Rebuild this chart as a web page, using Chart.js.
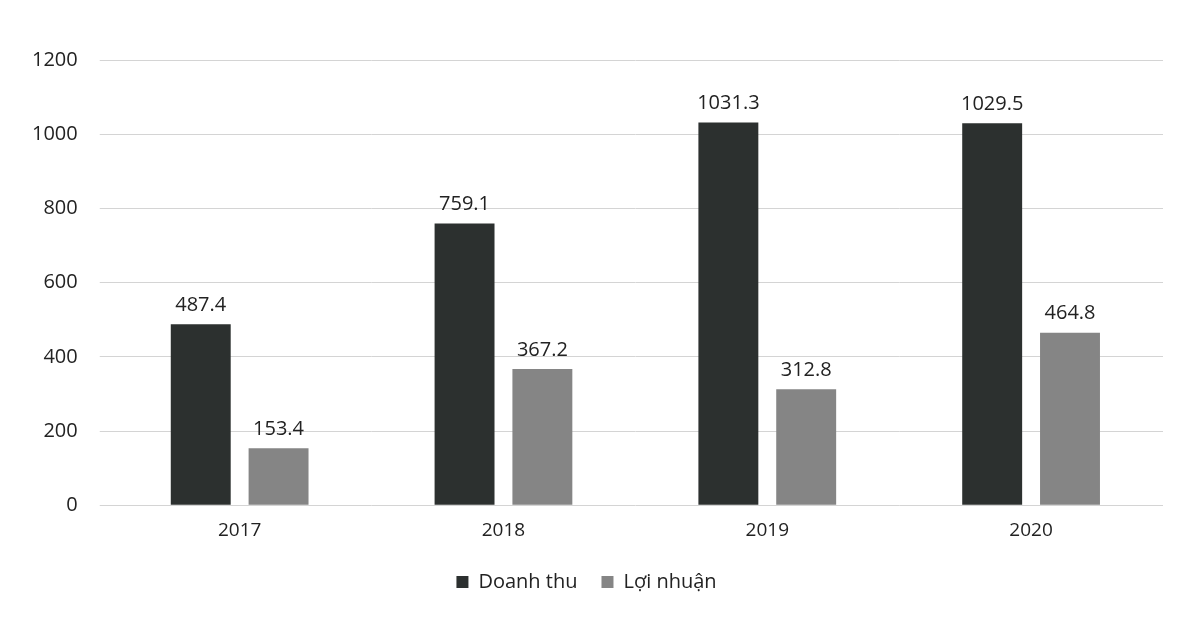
<!DOCTYPE html>
<html lang="vi">
<head>
    <meta charset="UTF-8">
    <title>Doanh thu và Lợi nhuận</title>
    <style>
        html, body {
            margin: 0;
            padding: 0;
            background: #fff;
        }
        #wrap {
            width: 1178px;
            height: 624px;
        }
    </style>
</head>
<body>
    <div id="wrap"><canvas id="myChart"></canvas></div>

    <script src="https://cdn.jsdelivr.net/npm/chart.js"></script>
    <script>
        const years = ['2017', '2018', '2019', '2020'];
        const doanhThu = [487.4, 759.1, 1031.3, 1029.5];
        const loiNhuan = [153.4, 367.2, 312.8, 464.8];
        const yTicks = [0, 200, 400, 600, 800, 1000, 1200];

        const FONT = '"Open Sans", sans-serif';

        // draw the value above each bar
        const valueLabels = {
            id: 'valueLabels',
            afterDatasetsDraw(chart) {
                const ctx = chart.ctx;
                ctx.save();
                ctx.font = '20px ' + FONT;
                ctx.fillStyle = '#222';
                ctx.textAlign = 'center';
                ctx.textBaseline = 'bottom';
                chart.data.datasets.forEach((ds, i) => {
                    chart.getDatasetMeta(i).data.forEach((bar, j) => {
                        ctx.fillText(ds.data[j].toFixed(1), bar.x, bar.y - 9);
                    });
                });
                ctx.restore();
            }
        };

        const ctx = document.getElementById('myChart').getContext('2d');
        new Chart(ctx, {
            type: 'bar',
            data: {
                labels: years,
                datasets: [
                    {
                        label: 'Doanh thu',
                        data: doanhThu,
                        backgroundColor: '#2c302f'
                    },
                    {
                        label: 'Lợi nhuận',
                        data: loiNhuan,
                        backgroundColor: '#858585'
                    }
                ]
            },
            options: {
                responsive: true,
                maintainAspectRatio: false,
                animation: false,
                categoryPercentage: 0.59,
                barPercentage: 0.77,
                layout: {
                    padding: { left: 10, right: 15, top: 60, bottom: 22 }
                },
                plugins: {
                    legend: {
                        position: 'bottom',
                        labels: {
                            boxWidth: 12,
                            boxHeight: 12,
                            padding: 24,
                            color: '#222',
                            font: { family: FONT, size: 20 }
                        }
                    },
                    tooltip: { enabled: false }
                },
                scales: {
                    x: {
                        grid: { display: false },
                        border: { display: false },
                        ticks: {
                            color: '#222',
                            padding: 6,
                            font: { family: FONT, size: 19 }
                        }
                    },
                    y: {
                        min: 0,
                        max: 1200,
                        afterBuildTicks(axis) {
                            axis.ticks = yTicks.map(v => ({ value: v }));
                        },
                        grid: { color: '#d4d4d4', lineWidth: 1 },
                        border: { display: false },
                        ticks: {
                            color: '#222',
                            padding: 22,
                            font: { family: FONT, size: 20 },
                            callback: v => String(v)
                        }
                    }
                }
            },
            plugins: [valueLabels]
        });
    </script>
</body>
</html>
